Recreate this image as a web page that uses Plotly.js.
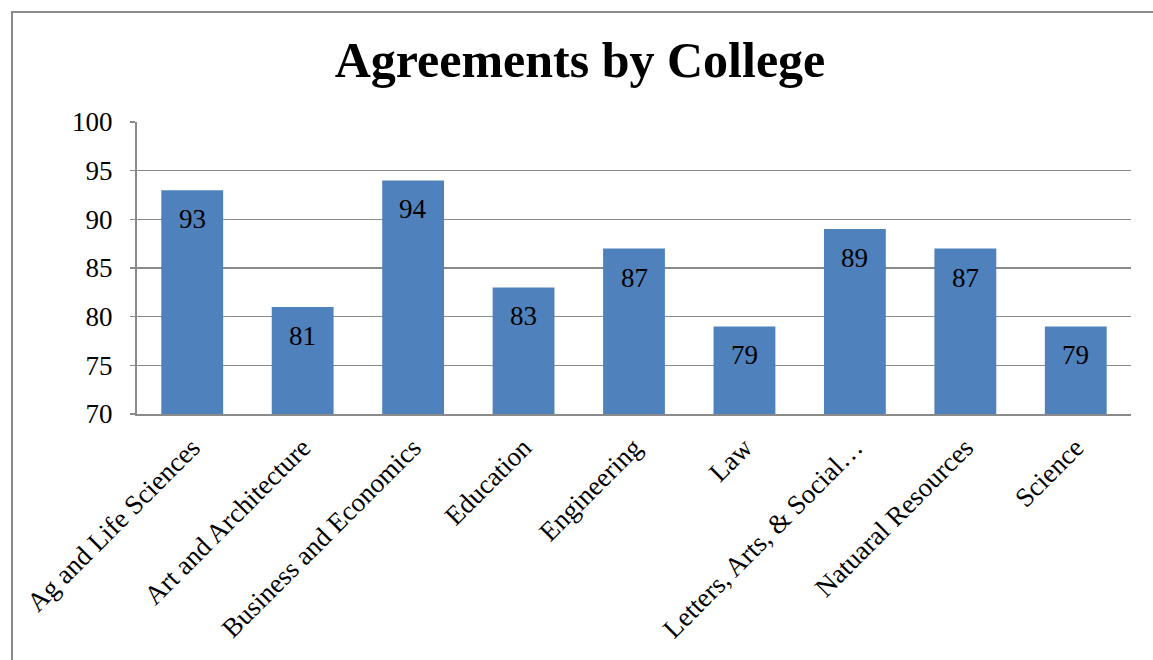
<!DOCTYPE html>
<html>
<head>
<meta charset="utf-8">
<script src="https://cdn.plot.ly/plotly-3.0.1.min.js"></script>
<style>
  html, body { margin: 0; padding: 0; background: #fff; overflow: hidden; }
  #frame { position: absolute; left: 11px; top: 11px; width: 1200px; height: 700px;
           border-left: 2px solid #8a8a8a; border-top: 2px solid #8a8a8a; pointer-events: none; }
  #chart { width: 1153px; height: 660px; }
</style>
</head>
<body>
<div id="chart"></div>
<div id="frame"></div>
<script>
const categories = ["Ag and Life Sciences", "Art and Architecture", "Business and Economics",
  "Education", "Engineering", "Law", "Letters, Arts, & Social…", "Natuaral Resources", "Science"];
const values = [93, 81, 94, 83, 87, 79, 89, 87, 79];
const yTicks = [70, 75, 80, 85, 90, 95, 100];

const serif = "Liberation Serif, Times New Roman, serif";

const trace = {
  type: "bar",
  x: categories,
  y: values,
  marker: { color: "#4F81BD", line: { width: 0 } },
  hoverinfo: "skip"
};

const annotations = categories.map((c, i) => ({
  x: c, y: values[i], xref: "x", yref: "y",
  text: String(values[i]), showarrow: false,
  yanchor: "middle", yshift: -29,
  font: { family: serif, size: 27, color: "#000" }
}));

const layout = {
  width: 1153, height: 660,
  margin: { l: 137, r: 22, t: 122, b: 246 },
  paper_bgcolor: "#fff", plot_bgcolor: "#fff",
  showlegend: false,
  bargap: 0.44,
  title: {
    text: "<b>Agreements by College</b>",
    font: { family: serif, size: 50, color: "#000" },
    xref: "container", x: 0.503, xanchor: "center",
    yref: "container", y: 0.91, yanchor: "middle"
  },
  xaxis: {
    type: "category",
    tickangle: -45,
    tickfont: { family: serif, size: 27, color: "#000" },
    showline: true, linecolor: "#8a8a8a", linewidth: 2,
    ticks: "", showgrid: false, ticklabelstandoff: 5
  },
  yaxis: {
    range: [70, 100],
    tickvals: yTicks,
    ticktext: yTicks.map(String),
    tickfont: { family: serif, size: 27, color: "#000" },
    showline: true, linecolor: "#8a8a8a", linewidth: 2,
    gridcolor: "#8a8a8a", gridwidth: 1.5,
    ticks: "outside", ticklen: 5, tickcolor: "#8a8a8a", tickwidth: 1.5,
    zeroline: false, ticklabelstandoff: 12
  },
  annotations: annotations
};

Plotly.newPlot("chart", [trace], layout, { displayModeBar: false, staticPlot: true });
</script>
</body>
</html>
